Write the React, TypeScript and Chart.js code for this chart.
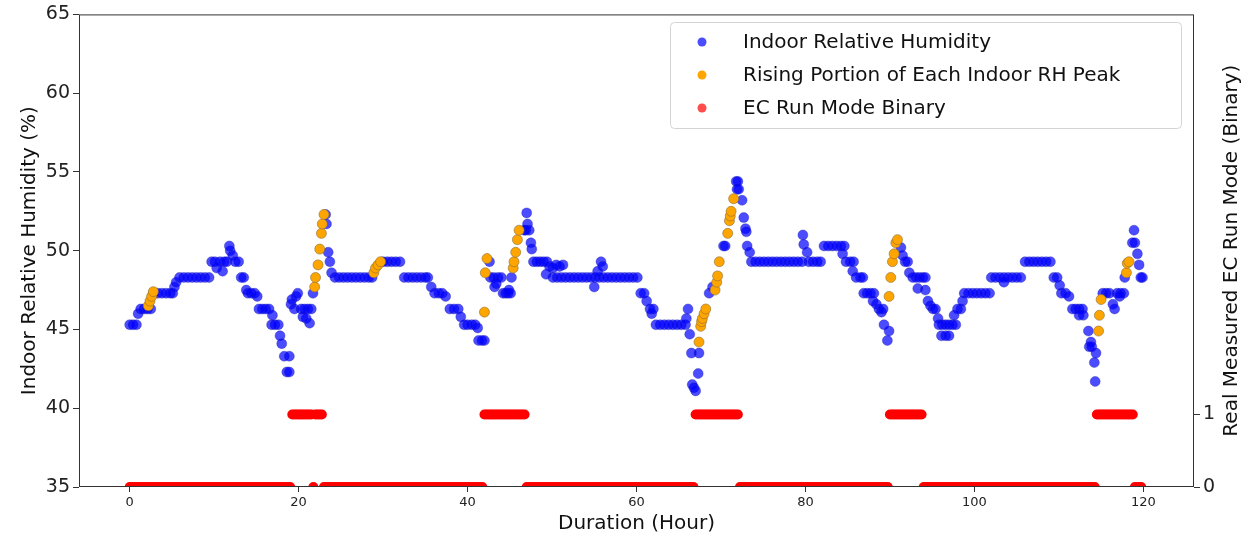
import React, { useEffect, useRef } from "react";
import { Chart, registerables } from "chart.js";

Chart.register(...registerables);

// ---------- data ----------
const xTickValues = [0, 20, 40, 60, 80, 100, 120];
const rhTickValues = [35, 40, 45, 50, 55, 60, 65];
const ecTickValues = [0, 1];

const legendLabels = [
  "Indoor Relative Humidity",
  "Rising Portion of Each Indoor RH Peak",
  "EC Run Mode Binary",
];
const xTitle = "Duration (Hour)";
const yLeftTitle = "Indoor Relative Humidity (%)";
const yRightTitle = "Real Measured EC Run Mode (Binary)";

// Indoor relative humidity samples (hour, %)
const rhHours = [
  0.0, 0.4, 0.8, 1.0, 1.3, 1.7, 2.1, 2.5, 2.8, 3.3,
  3.8, 4.3, 4.8, 5.1, 5.3, 5.5, 5.9, 6.4, 6.9, 7.4,
  7.9, 8.4, 8.9, 9.4, 9.7, 10.1, 10.3, 10.7, 11.0, 11.2,
  11.5, 11.8, 11.9, 12.2, 12.5, 12.9, 13.2, 13.5, 13.8, 14.0,
  14.4, 14.8, 15.1, 15.3, 15.7, 16.1, 16.5, 16.9, 16.8, 17.2,
  17.6, 17.8, 18.0, 18.3, 18.9, 18.6, 18.9,
  19.1, 19.2, 19.5, 19.7, 19.9, 20.3, 20.5, 20.7, 20.9, 21.1,
  21.3, 21.5, 21.7, 23.2, 23.3, 23.5, 23.7, 23.9,
  24.3, 24.8, 25.3, 25.8, 26.3, 26.8, 27.3, 27.8, 28.3, 28.7,
  30.0, 30.5, 31.0, 31.5, 32.0, 32.5, 33.0, 33.5, 34.0, 34.5,
  35.0, 35.3, 35.7, 36.1, 36.6, 37.0, 37.4, 37.9, 38.4, 38.9,
  39.2, 39.6, 40.0, 40.5, 40.9, 41.2, 41.3, 41.7, 42.0,
  42.6, 42.7, 43.1, 43.6, 44.0, 43.2, 43.4, 44.2, 44.5, 44.8,
  45.1, 44.9, 45.2, 46.7, 46.9, 47.0, 47.1, 47.3, 47.5, 47.6,
  47.8, 48.2, 48.6, 49.0, 49.4, 49.3, 49.7, 50.1, 50.5, 50.9, 51.3,
  50.1, 50.6, 51.1, 51.6, 52.1, 52.6, 53.1, 53.6, 54.1, 54.6,
  55.1, 55.6, 56.1, 56.6, 57.1, 57.6, 58.1, 58.6, 59.1, 59.6,
  60.1, 55.0, 55.4, 55.8, 56.0, 60.5, 60.9, 61.2, 61.6, 61.8,
  62.0, 62.3, 62.8, 63.3, 63.8, 64.3, 64.8, 65.3, 65.8,
  65.9, 66.1, 66.3, 66.5, 66.6, 66.8, 67.0, 67.3, 67.4,
  68.6, 69.0, 70.3, 70.5, 71.8, 72.0, 71.9, 72.1, 72.5, 72.7,
  72.9, 73.0, 73.1, 73.4, 73.6, 74.1, 74.6, 75.1, 75.6, 76.1,
  76.6, 77.1, 77.6, 78.1, 78.6, 79.1, 79.6, 79.7, 79.8, 80.2,
  80.4, 80.9, 81.4, 81.8, 82.2, 82.7, 83.2, 83.7, 84.2, 84.6,
  84.4, 84.8, 85.3, 85.7, 85.6, 86.0, 86.5, 86.8, 86.9, 87.3,
  87.7, 88.1, 88.0, 88.4, 88.7, 89.0, 89.2, 89.3, 89.7, 89.9,
  91.3, 91.5, 91.8, 92.1, 92.3, 92.7, 93.1, 93.5, 93.9, 94.2,
  93.3, 94.2, 94.5, 94.8, 95.1, 95.4, 95.7, 95.8, 96.2, 96.6,
  97.0, 97.4, 97.8, 96.1, 96.6, 97.0, 97.6, 98.0, 98.4, 98.6,
  98.8, 99.3, 99.8, 100.3, 100.8, 101.3, 101.8, 102.0, 102.5, 103.0,
  103.5, 104.0, 104.5, 105.0, 105.5, 103.5, 106.0, 106.5, 107.0, 107.5,
  108.0, 108.5, 109.0, 109.4, 109.8, 110.1, 110.3, 110.8, 111.2, 111.6,
  112.0, 112.4, 112.8, 112.4, 112.9, 113.5, 113.6, 113.8, 113.9, 114.2,
  114.3, 114.4, 115.2, 115.6, 116.0, 116.4, 116.6, 116.9, 117.3, 117.7,
  117.2, 117.8, 118.7, 118.9, 119.0, 119.3, 119.5, 119.7, 119.9,
];
const rhValues = [
  45.3, 45.3, 45.3, 46.0, 46.3, 46.3, 46.3, 46.3, 47.3, 47.3,
  47.3, 47.3, 47.3, 47.3, 47.7, 48.0, 48.3, 48.3, 48.3, 48.3,
  48.3, 48.3, 48.3, 48.3, 49.3, 49.3, 48.9, 49.3, 48.7, 49.3,
  49.3, 50.3, 50.0, 49.7, 49.3, 49.3, 48.3, 48.3, 47.5, 47.3,
  47.3, 47.3, 47.1, 46.3, 46.3, 46.3, 46.3, 45.9, 45.3, 45.3,
  45.3, 44.6, 44.1, 43.3, 43.3, 42.3, 42.3,
  46.6, 46.9, 46.3, 47.1, 47.3, 46.3, 45.8, 46.3, 45.7, 46.3,
  45.4, 46.3, 47.3, 52.3, 51.7, 49.9, 49.3, 48.6,
  48.3, 48.3, 48.3, 48.3, 48.3, 48.3, 48.3, 48.3, 48.3, 48.3,
  49.3, 49.3, 49.3, 49.3, 49.3, 48.3, 48.3, 48.3, 48.3, 48.3,
  48.3, 48.3, 47.7, 47.3, 47.3, 47.3, 47.1, 46.3, 46.3, 46.3,
  45.8, 45.3, 45.3, 45.3, 45.3, 45.1, 44.3, 44.3, 44.3,
  49.3, 48.3, 48.3, 48.3, 48.3, 47.7, 47.9, 47.3, 47.3, 47.3,
  47.3, 47.5, 48.3, 51.3, 51.3, 52.4, 51.7, 51.3, 50.5, 50.1,
  49.3, 49.3, 49.3, 49.3, 49.3, 48.5, 49.0, 48.9, 49.1, 49.0, 49.1,
  48.3, 48.3, 48.3, 48.3, 48.3, 48.3, 48.3, 48.3, 48.3, 48.3,
  48.3, 48.3, 48.3, 48.3, 48.3, 48.3, 48.3, 48.3, 48.3, 48.3,
  48.3, 47.7, 48.7, 49.3, 49.0, 47.3, 47.3, 46.8, 46.3, 46.0,
  46.3, 45.3, 45.3, 45.3, 45.3, 45.3, 45.3, 45.3, 45.3,
  45.7, 46.3, 44.7, 43.5, 41.5, 41.3, 41.1, 42.2, 43.5,
  47.3, 47.7, 50.3, 50.3, 54.4, 54.4, 53.9, 53.9, 53.2, 52.1,
  51.4, 51.2, 50.3, 49.9, 49.3, 49.3, 49.3, 49.3, 49.3, 49.3,
  49.3, 49.3, 49.3, 49.3, 49.3, 49.3, 49.3, 51.0, 50.4, 49.9,
  49.3, 49.3, 49.3, 49.3, 50.3, 50.3, 50.3, 50.3, 50.3, 50.3,
  49.8, 49.3, 49.3, 49.3, 48.7, 48.3, 48.3, 48.3, 47.3, 47.3,
  47.3, 47.3, 46.8, 46.6, 46.3, 46.1, 46.3, 45.3, 44.3, 44.9,
  50.2, 49.7, 49.3, 49.3, 48.6, 48.3, 48.3, 48.3, 48.3, 48.3,
  47.6, 47.5, 46.8, 46.5, 46.3, 46.3, 45.7, 45.3, 45.3, 45.3,
  45.3, 45.3, 45.3, 44.6, 44.6, 44.6, 45.9, 46.3, 46.3, 46.8,
  47.3, 47.3, 47.3, 47.3, 47.3, 47.3, 47.3, 48.3, 48.3, 48.3,
  48.3, 48.3, 48.3, 48.3, 48.3, 48.0, 49.3, 49.3, 49.3, 49.3,
  49.3, 49.3, 49.3, 48.3, 48.3, 47.8, 47.3, 47.3, 47.1, 46.3,
  46.3, 46.3, 46.3, 45.9, 45.9, 44.9, 43.9, 44.2, 43.9, 42.9,
  41.7, 43.5, 47.3, 47.3, 47.3, 46.6, 46.3, 47.3, 47.3, 47.3,
  47.1, 48.3, 50.5, 51.3, 50.5, 49.8, 49.1, 48.3, 48.3,
];

// Rising portion of each indoor RH peak (hour, %)
const riseHours = [
  2.2, 2.4, 2.6, 2.8,
  21.9, 22.0, 22.3, 22.5, 22.7, 22.8, 23.0,
  28.9, 29.1, 29.4, 29.7,
  42.0, 42.1, 42.3,
  45.4, 45.5, 45.7, 45.9, 46.1,
  67.4, 67.6, 67.7, 67.8, 68.0, 68.2,
  69.3, 69.5, 69.6, 69.8,
  70.8, 71.0, 71.1, 71.2, 71.5,
  89.9, 90.1, 90.3, 90.5, 90.7, 90.9,
  114.7, 114.8, 115.0,
  118.0, 118.1, 118.3,
];
const riseValues = [
  46.5, 46.8, 47.1, 47.4,
  47.7, 48.3, 49.1, 50.1, 51.1, 51.7, 52.3,
  48.6, 48.9, 49.1, 49.3,
  46.1, 48.6, 49.5,
  48.9, 49.3, 49.9, 50.7, 51.3,
  44.2, 45.2, 45.5, 45.7, 46.0, 46.3,
  47.5, 48.0, 48.4, 49.3,
  51.1, 51.9, 52.2, 52.5, 53.3,
  47.1, 48.3, 49.3, 49.8, 50.5, 50.7,
  44.9, 45.9, 46.9,
  48.6, 49.2, 49.3,
];

// EC run mode (binary), one sample every quarter hour starting at hour 0
const EC_SAMPLE_STEP_HOURS = 0.25;
const ecMode = [
  // 0 - 9.75 h
  0, 0, 0, 0, 0, 0, 0, 0, 0, 0, 0, 0, 0, 0, 0, 0, 0, 0, 0, 0,
  0, 0, 0, 0, 0, 0, 0, 0, 0, 0, 0, 0, 0, 0, 0, 0, 0, 0, 0, 0,
  // 10 - 19.75 h
  0, 0, 0, 0, 0, 0, 0, 0, 0, 0, 0, 0, 0, 0, 0, 0, 0, 0, 0, 0,
  0, 0, 0, 0, 0, 0, 0, 0, 0, 0, 0, 0, 0, 0, 0, 0, 0, 1, 1, 1,
  // 20 - 29.75 h
  1, 1, 1, 1, 1, 1, 1, 0, 1, 1, 1, 1, 0, 0, 0, 0, 0, 0, 0, 0,
  0, 0, 0, 0, 0, 0, 0, 0, 0, 0, 0, 0, 0, 0, 0, 0, 0, 0, 0, 0,
  // 30 - 39.75 h
  0, 0, 0, 0, 0, 0, 0, 0, 0, 0, 0, 0, 0, 0, 0, 0, 0, 0, 0, 0,
  0, 0, 0, 0, 0, 0, 0, 0, 0, 0, 0, 0, 0, 0, 0, 0, 0, 0, 0, 0,
  // 40 - 49.75 h
  0, 0, 0, 0, 0, 0, 0, 0, 1, 1, 1, 1, 1, 1, 1, 1, 1, 1, 1, 1,
  1, 1, 1, 1, 1, 1, 1, 1, 0, 0, 0, 0, 0, 0, 0, 0, 0, 0, 0, 0,
  // 50 - 59.75 h
  0, 0, 0, 0, 0, 0, 0, 0, 0, 0, 0, 0, 0, 0, 0, 0, 0, 0, 0, 0,
  0, 0, 0, 0, 0, 0, 0, 0, 0, 0, 0, 0, 0, 0, 0, 0, 0, 0, 0, 0,
  // 60 - 69.75 h
  0, 0, 0, 0, 0, 0, 0, 0, 0, 0, 0, 0, 0, 0, 0, 0, 0, 0, 0, 0,
  0, 0, 0, 0, 0, 0, 0, 0, 1, 1, 1, 1, 1, 1, 1, 1, 1, 1, 1, 1,
  // 70 - 79.75 h
  1, 1, 1, 1, 1, 1, 1, 1, 1, 0, 0, 0, 0, 0, 0, 0, 0, 0, 0, 0,
  0, 0, 0, 0, 0, 0, 0, 0, 0, 0, 0, 0, 0, 0, 0, 0, 0, 0, 0, 0,
  // 80 - 89.75 h
  0, 0, 0, 0, 0, 0, 0, 0, 0, 0, 0, 0, 0, 0, 0, 0, 0, 0, 0, 0,
  0, 0, 0, 0, 0, 0, 0, 0, 0, 0, 0, 0, 0, 0, 0, 0, 0, 0, 0, 0,
  // 90 - 99.75 h
  1, 1, 1, 1, 1, 1, 1, 1, 1, 1, 1, 1, 1, 1, 1, 1, 0, 0, 0, 0,
  0, 0, 0, 0, 0, 0, 0, 0, 0, 0, 0, 0, 0, 0, 0, 0, 0, 0, 0, 0,
  // 100 - 109.75 h
  0, 0, 0, 0, 0, 0, 0, 0, 0, 0, 0, 0, 0, 0, 0, 0, 0, 0, 0, 0,
  0, 0, 0, 0, 0, 0, 0, 0, 0, 0, 0, 0, 0, 0, 0, 0, 0, 0, 0, 0,
  // 110 - 119.75 h
  0, 0, 0, 0, 0, 0, 0, 0, 0, 0, 0, 0, 0, 0, 0, 0, 0, 0, 1, 1,
  1, 1, 1, 1, 1, 1, 1, 1, 1, 1, 1, 1, 1, 1, 1, 1, 0, 0, 0, 0,
];

// ---------- styles ----------
const FONT = "'DejaVu Sans', 'Liberation Sans', sans-serif";
const BLUE = "rgba(0, 0, 255, 0.7)";
const BLUE_EDGE = "rgba(20, 20, 170, 0.55)";
const ORANGE = "rgb(255, 165, 0)";
const ORANGE_EDGE = "rgba(140, 110, 60, 0.75)";
const RED_LEGEND = "rgba(255, 0, 0, 0.7)";
const RED_RUN = "rgb(255, 0, 0)";
const AXIS_COLOR = "#333333";

const frameLegendPlugin = {
  id: "frameLegend",
  afterDatasetsDraw(chart: any) {
    const { ctx, chartArea: a } = chart;
    ctx.save();
    // frame (all four spines)
    ctx.strokeStyle = AXIS_COLOR;
    ctx.lineWidth = 1;
    ctx.strokeRect(a.left + 0.5, a.top + 0.5, a.right - a.left - 1, a.bottom - a.top - 1);

    // right axis title, reading bottom-to-top
    ctx.save();
    ctx.translate(1232, (a.top + a.bottom) / 2);
    ctx.rotate(-Math.PI / 2);
    ctx.font = `20px ${FONT}`;
    ctx.fillStyle = "#111111";
    ctx.textAlign = "center";
    ctx.textBaseline = "middle";
    ctx.fillText(yRightTitle, 0, 0);
    ctx.restore();

    // legend box
    const bx = 670.5, by = 22.5, bw = 511, bh = 106;
    ctx.beginPath();
    ctx.roundRect(bx, by, bw, bh, 4);
    ctx.fillStyle = "rgba(255,255,255,0.8)";
    ctx.fill();
    ctx.strokeStyle = "#d4d4d4";
    ctx.lineWidth = 1;
    ctx.stroke();

    const colors = [BLUE, ORANGE, RED_LEGEND];
    const rowsY = [42, 75, 108];
    ctx.font = `20px ${FONT}`;
    ctx.textBaseline = "middle";
    ctx.textAlign = "left";
    legendLabels.forEach((label, i) => {
      ctx.beginPath();
      ctx.arc(702, rowsY[i], 4.5, 0, Math.PI * 2);
      ctx.fillStyle = colors[i];
      ctx.fill();
      ctx.fillStyle = "#111111";
      ctx.fillText(label, 743, rowsY[i] + 1);
    });
    ctx.restore();
  },
};

export default function App() {
  const canvasRef = useRef<HTMLCanvasElement | null>(null);

  useEffect(() => {
    document.body.style.margin = "0";
    const canvas = canvasRef.current;
    if (!canvas) return;

    const rhPoints = rhHours.map((h, i) => ({ x: h, y: rhValues[i] }));
    const risePoints = riseHours.map((h, i) => ({ x: h, y: riseValues[i] }));
    const ecPoints = ecMode.map((m, i) => ({ x: i * EC_SAMPLE_STEP_HOURS, y: m }));

    const chart = new Chart(canvas, {
      type: "scatter",
      data: {
        datasets: [
          {
            label: legendLabels[0],
            data: rhPoints,
            backgroundColor: BLUE,
            borderColor: BLUE_EDGE,
            borderWidth: 0.6,
            pointRadius: 5,
            yAxisID: "y",
            order: 2,
          },
          {
            label: legendLabels[1],
            data: risePoints,
            backgroundColor: ORANGE,
            borderColor: ORANGE_EDGE,
            borderWidth: 0.8,
            pointRadius: 5,
            yAxisID: "y",
            order: 1,
          },
          {
            label: legendLabels[2],
            data: ecPoints,
            backgroundColor: RED_RUN,
            borderColor: RED_RUN,
            borderWidth: 0,
            pointRadius: 5,
            yAxisID: "yEc",
            order: 0,
            clip: 0,
          },
        ],
      } as any,
      options: {
        responsive: false,
        animation: false,
        devicePixelRatio: 1,
        events: [],
        layout: { padding: { top: 11, left: 0, right: 0, bottom: 0 } },
        plugins: {
          legend: { display: false },
          tooltip: { enabled: false },
        },
        scales: {
          x: {
            type: "linear",
            position: "bottom",
            min: -6,
            max: 126,
            afterBuildTicks: (s: any) => {
              s.ticks = xTickValues.map((v) => ({ value: v }));
            },
            afterFit: (s: any) => {
              s.height = 53;
            },
            ticks: {
              autoSkip: false,
              maxRotation: 0,
              padding: 3,
              color: "#222222",
              font: { family: FONT, size: 13 },
            },
            grid: {
              drawOnChartArea: false,
              drawTicks: true,
              tickLength: 5,
              color: AXIS_COLOR,
              tickColor: AXIS_COLOR,
            },
            border: { display: false },
            title: {
              display: true,
              text: xTitle,
              color: "#111111",
              font: { family: FONT, size: 20, lineHeight: 1.2 },
              padding: { top: 0, bottom: 4 },
            },
          },
          y: {
            type: "linear",
            position: "left",
            min: 35,
            max: 65,
            afterBuildTicks: (s: any) => {
              s.ticks = rhTickValues.map((v) => ({ value: v }));
            },
            afterFit: (s: any) => {
              s.width = 79;
            },
            ticks: {
              padding: 3,
              color: "#222222",
              font: { family: FONT, size: 19 },
            },
            grid: {
              drawOnChartArea: false,
              drawTicks: true,
              tickLength: 6,
              color: AXIS_COLOR,
              tickColor: AXIS_COLOR,
            },
            border: { display: false },
            title: {
              display: true,
              text: yLeftTitle,
              color: "#111111",
              font: { family: FONT, size: 20, lineHeight: 1.2 },
              padding: { top: 18, bottom: 0 },
            },
          },
          yEc: {
            type: "linear",
            position: "right",
            min: 0,
            max: 6.52,
            afterBuildTicks: (s: any) => {
              s.ticks = ecTickValues.map((v) => ({ value: v }));
            },
            afterFit: (s: any) => {
              s.width = 49;
            },
            ticks: {
              padding: 3,
              color: "#222222",
              font: { family: FONT, size: 19 },
            },
            grid: {
              drawOnChartArea: false,
              drawTicks: true,
              tickLength: 6,
              color: AXIS_COLOR,
              tickColor: AXIS_COLOR,
            },
            border: { display: false },
            title: { display: false },
          },
        },
      } as any,
      plugins: [frameLegendPlugin],
    });

    return () => {
      chart.destroy();
    };
  }, []);

  return (
    <div style={{ width: 1243, height: 540, background: "#ffffff" }}>
      <canvas ref={canvasRef} width={1243} height={540} style={{ display: "block" }} />
    </div>
  );
}
